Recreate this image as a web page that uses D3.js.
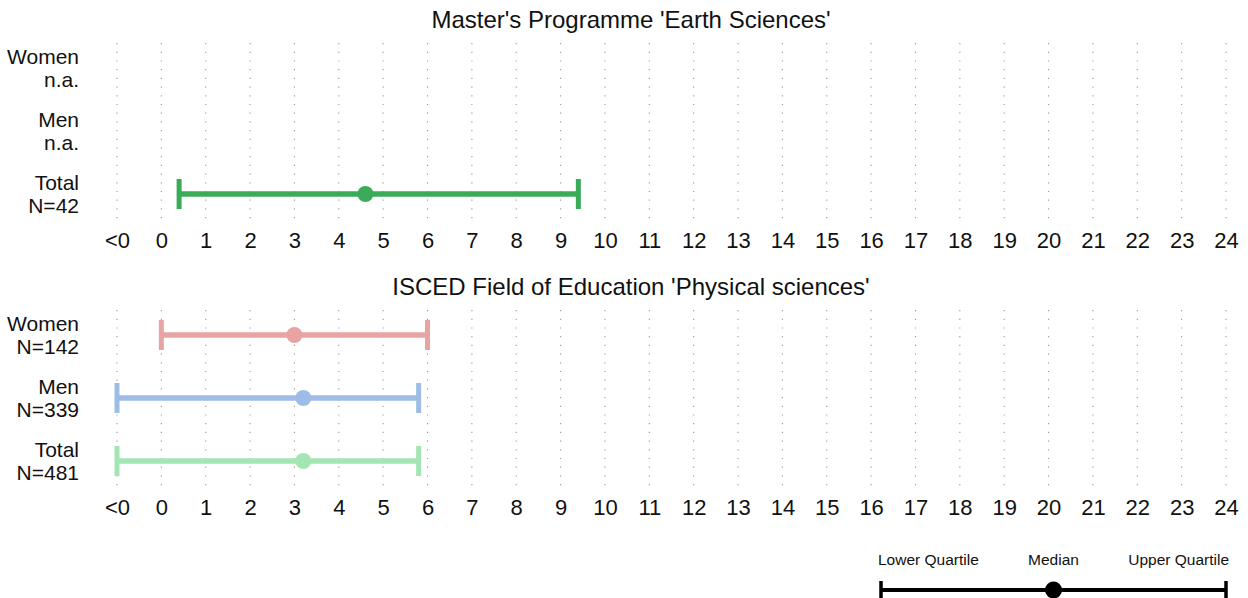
<!DOCTYPE html>
<html>
<head>
<meta charset="utf-8">
<script src="https://cdn.jsdelivr.net/npm/d3@7"></script>
<style>
  html, body { margin: 0; padding: 0; background: #fff; }
  svg { display: block; font-family: "Liberation Sans", Arial, sans-serif; }
</style>
</head>
<body>
<svg id="chart" width="1248" height="598"></svg>
<script>
// ---- data ----
const tickLabels = ["<0","0","1","2","3","4","5","6","7","8","9","10","11","12","13","14","15","16","17","18","19","20","21","22","23","24"];
const tickValues = [-1,0,1,2,3,4,5,6,7,8,9,10,11,12,13,14,15,16,17,18,19,20,21,22,23,24];
const groups = ["Women","Men","Total"];

const panel1Title = "Master's Programme 'Earth Sciences'";
const panel1N = ["n.a.","n.a.","N=42"];
const panel1Lower = [null, null, 0.4];
const panel1Median = [null, null, 4.6];
const panel1Upper = [null, null, 9.4];
const panel1Colors = ["#e8a3a3", "#9dbde6", "#3aab59"];

const panel2Title = "ISCED Field of Education 'Physical sciences'";
const panel2N = ["N=142","N=339","N=481"];
const panel2Lower = [0, -1, -1];
const panel2Median = [3.0, 3.2, 3.2];
const panel2Upper = [6.0, 5.8, 5.8];
const panel2Colors = ["#e8a3a3", "#9dbde6", "#a3e6b3"];

const legendLabels = ["Lower Quartile","Median","Upper Quartile"];
const legendValues = [16.4, 20.1, 24];

// ---- layout ----
const svg = d3.select("#chart");
const x = d3.scaleLinear().domain([-1, 24]).range([117, 1226]);

function drawPanel(top, title, nLabels, lower, median, upper, colors) {
  const g = svg.append("g").attr("transform", `translate(0,${top})`);
  const y = d3.scalePoint().domain(groups).range([68, 194]);

  g.append("text")
    .attr("x", 631).attr("y", 28)
    .attr("text-anchor", "middle")
    .attr("font-size", 24).attr("fill", "#111")
    .text(title);

  // dotted grid
  g.append("g").selectAll("line").data(tickValues).join("line")
    .attr("x1", d => x(d)).attr("x2", d => x(d))
    .attr("y1", 43).attr("y2", 219)
    .attr("stroke", "#999").attr("stroke-width", 1.1)
    .attr("stroke-dasharray", "1.2,7.5");

  // x axis tick labels
  const axis = d3.axisBottom(x).tickValues(tickValues)
    .tickFormat((d, i) => tickLabels[i]).tickSize(0).tickPadding(0);
  const ax = g.append("g").attr("transform", "translate(0,232)").call(axis);
  ax.select(".domain").remove();
  ax.selectAll("text").attr("font-size", 22).attr("fill", "#111")
    .attr("font-family", "Liberation Sans, Arial, sans-serif");

  // row labels
  groups.forEach((grp, i) => {
    const t = g.append("text").attr("text-anchor", "end")
      .attr("font-size", 21).attr("fill", "#111");
    t.append("tspan").attr("x", 79).attr("y", y(grp) - 4).text(grp);
    t.append("tspan").attr("x", 79).attr("y", y(grp) + 19).text(nLabels[i]);
  });

  // error bars
  groups.forEach((grp, i) => {
    if (median[i] == null) return;
    const yy = y(grp);
    const c = colors[i];
    g.append("line").attr("x1", x(lower[i])).attr("x2", x(upper[i]))
      .attr("y1", yy).attr("y2", yy).attr("stroke", c).attr("stroke-width", 5.5);
    [lower[i], upper[i]].forEach(v => {
      g.append("line").attr("x1", x(v)).attr("x2", x(v))
        .attr("y1", yy - 15).attr("y2", yy + 15)
        .attr("stroke", c).attr("stroke-width", 5);
    });
    g.append("circle").attr("cx", x(median[i])).attr("cy", yy).attr("r", 8).attr("fill", c);
  });
}

drawPanel(0, panel1Title, panel1N, panel1Lower, panel1Median, panel1Upper, panel1Colors);
drawPanel(267, panel2Title, panel2N, panel2Lower, panel2Median, panel2Upper, panel2Colors);

// ---- legend ----
const lg = svg.append("g");
const lx = d3.scaleLinear().domain([legendValues[0], legendValues[2]]).range([881, 1226]);
const ly = 590;
lg.append("line").attr("x1", lx(legendValues[0])).attr("x2", lx(legendValues[2]))
  .attr("y1", ly).attr("y2", ly).attr("stroke", "#000").attr("stroke-width", 4);
[legendValues[0], legendValues[2]].forEach(v => {
  lg.append("line").attr("x1", lx(v)).attr("x2", lx(v))
    .attr("y1", ly - 9).attr("y2", ly + 12).attr("stroke", "#000").attr("stroke-width", 3.5);
});
lg.append("circle").attr("cx", lx((legendValues[0] + legendValues[2]) / 2)).attr("cy", ly).attr("r", 8.5).attr("fill", "#000");
const legendX = [878, lx((legendValues[0] + legendValues[2]) / 2), 1229];
const legendAnchor = ["start", "middle", "end"];
legendLabels.forEach((l, i) => {
  lg.append("text").attr("x", legendX[i]).attr("y", 565)
    .attr("text-anchor", legendAnchor[i]).attr("font-size", 15.5).attr("fill", "#111").text(l);
});
</script>
</body>
</html>
